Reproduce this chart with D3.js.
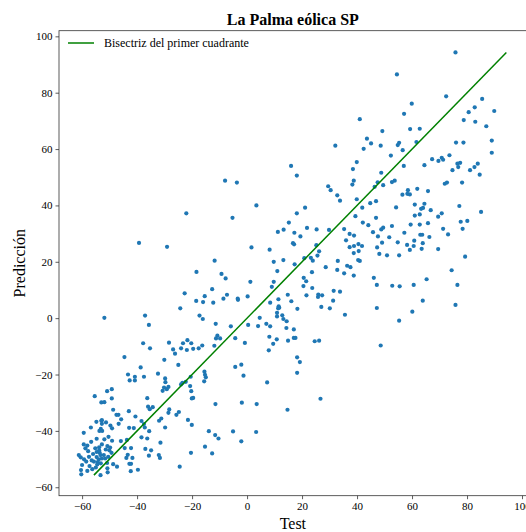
<!DOCTYPE html>
<html>
<head>
<meta charset="utf-8">
<script src="https://cdn.jsdelivr.net/npm/d3@7"></script>
<style>
  body { margin: 0; background: #fff; }
  svg text { font-family: "Liberation Serif", "Times New Roman", serif; fill: #000; }
</style>
</head>
<body>
<svg id="chart" width="526" height="532"></svg>
<script>
// values (Test, Predicción)
const testValues = [
  -22.1, -39.3, -29.1, -11.8,
  41.0, 43.6, 45.1, 42.4, 32.1, 39.9, 38.5, 16.0, 18.1, 38.8, 38.3, 29.5, 30.4, 32.8, 33.8, -8.0,
  -3.7, 3.4, -5.3, 21.1, 18.1, 39.9, 41.9, 44.8, 39.4, 15.2, 11.2, 13.3, 21.8, 25.3, 29.8, 17.2,
  19.4, 16.7, 17.1, 35.3, 42.1, 44.1, 37.3, 38.9, 36.0, 40.5, 37.3, 38.9, 38.8, 40.6, 41.8, 40.4,
  41.0, 25.2, 26.2, 25.6, 1.6, 8.2, 9.7, 13.2, 20.8, 23.2, 23.9, 33.0, 17.3,
  75.8, 54.5, 72.4, 85.5, 59.9, 82.8, 89.9, 80.6, 57.1, 78.8, 83.0, 87.0, 49.2, 59.3, 62.8, 48.6,
  54.8, 55.3, 61.6, 76.0, 78.7, 89.0, 56.6, 52.3, 89.0, 67.3, 69.6, 70.8, 71.3, 73.6, 57.0, 64.5,
  76.5, 77.5, 76.8, 74.7, 83.9, 82.7, 81.1, 84.6, 48.8, 46.4, 47.5, 49.5, 52.7, 53.7, 71.9, 72.7,
  78.2, 58.5, 61.9, 56.5, 58.3, 59.2, 65.8, 46.9, 61.0, 64.5, 63.3, 64.0, 54.2, 66.8, 77.2, 85.1,
  61.0, 62.8, 70.8, 69.5, 46.9, 77.7, 80.1, 59.5, 62.8, 65.8, 52.7, 49.5, 48.8, 71.3, 78.4, 45.8,
  57.2, 47.6, 51.7, 63.0, 63.7, 66.3, 73.1, 60.8, 54.8, 49.1, 63.9, 58.2, 60.6, 47.3, 59.2, 63.5,
  69.5, 48.1, 50.9, 55.3, 79.3,
  46.1, 47.2, 52.8, 55.5, 60.6, 65.3, 74.4, 76.5, 47.2, 63.9, 60.1, 75.8, 55.3, 48.6,
  11.0, -9.3, -7.8, 1.2, 9.7, 9.0, -7.3, -8.6, -3.4, -3.3, 0.2, 11.4, 8.4, 14.8, 16.1, 11.5,
  11.7, 11.3, 18.3, 10.9, 10.9, 12.8, 13.2, 4.6, 14.4, -11.4, -5.9, 0.4, 4.0, 7.0, 8.4, 14.3,
  17.0, -10.8, -11.3, -9.8, -4.3, 8.1, 10.8, 14.9, 17.0, 17.6, -0.8, 9.5, 7.9, 24.6, 26.2, 18.2,
  19.2, 18.2, -4.3, -2.1, -1.3, 7.3, 26.7, -11.5, -1.9, 3.5, 14.7, -11.6, -10.4, -5.1, 3.3, -2.1,
  23.6, 20.6, 21.5, 20.5, 23.7, 21.6, 28.6, 32.8, 35.3, 36.4, 37.6, 38.8, 25.9, 25.8, 27.3, 31.5,
  33.8, 31.3, 27.0, 30.1, 35.6,
  -18.4, -12.7, -22.7, -15.4, -18.5, -16.0, -12.3, -24.3, -51.9, -37.1, -35.7, -17.3, -16.1, -44.6, -37.8, -35.3,
  -28.4, -26.9, -26.2, -24.0, -23.3, -21.7, -21.9, -20.3, -19.6, -17.6, -16.3, -11.9, -30.1, -25.0, -38.7, -40.8,
  -37.5, -43.3, -42.7, -40.8, -32.4, -29.8, -29.7, -30.2, -30.7, -29.2, -28.6, -24.0, -23.5, -22.3, -20.5, -20.7,
  -20.3, -19.6, -20.1, -15.5, -15.3, -15.6, -15.0, -21.5, -20.1, -13.9, -15.3, -12.7, -20.4, -24.5, -36.3, -36.0,
  -35.4, -34.3, -28.3, -28.6, -25.7, -24.8, -32.0, -31.2, -29.8, -37.5, -37.2, -35.6, -38.4, -36.3, -31.5, -37.0,
  -34.9, -35.7, -32.1, -31.7, -40.6, -43.0, -42.9, -41.2, -38.4, -45.8, -46.8, -47.5, -46.7, -49.7, -49.1, -45.9,
  -43.7, -44.5, -42.2, -43.4, -43.9, -41.7, -42.8, -42.2, -42.3, -39.7, -47.3, -55.4, -50.9, -49.2, -49.2, -53.0,
  -51.9, -48.7, -52.8, -54.8, -56.8, -59.4, -53.2, -53.7, -52.7, -54.7, -56.7, -51.9, -50.8, -49.8, -50.1, -51.4,
  -49.3, -50.5, -53.8, -55.2, -58.8, -57.8, -54.7, -53.6, -56.0, -53.3, -52.1, -61.2, -60.5, -57.5, -54.7, -53.9,
  -52.8, -51.6, -59.3, -58.5, -55.7, -54.3, -53.2, -50.9, -48.7, -60.0, -57.3, -55.0, -50.8, -60.4, -58.1, -60.3,
  -53.3, -50.7, -56.3, -53.0, -52.8, -51.3, -59.4, -58.1, -56.5, -54.5, -53.8, -52.8, -50.4, -49.1
];
const predValues = [
  37.2, 26.7, 25.3, 20.4,
  70.6, 63.7, 62.0, 60.1, 61.2, 55.4, 52.9, 54.0, 50.6, 48.8, 47.4, 46.8, 45.4, 43.6, 41.7, 48.8,
  48.1, 40.0, 35.6, 39.2, 37.2, 42.2, 39.2, 40.8, 36.2, 33.9, 30.6, 31.4, 32.0, 31.5, 31.3, 30.3,
  29.0, 26.6, 26.2, 31.6, 33.9, 33.0, 29.9, 29.3, 27.6, 26.3, 25.2, 25.6, 23.1, 23.8, 25.6, 20.6,
  20.3, 25.9, 23.7, 22.2, 25.1, 24.3, 20.0, 20.6, 21.3, 21.4, 20.4, 20.3, 19.1,
  94.3, 86.5, 78.7, 77.8, 76.1, 74.8, 73.5, 73.1, 72.5, 70.3, 69.7, 68.1, 66.4, 67.1, 67.2, 61.2,
  61.4, 62.2, 62.5, 62.3, 62.3, 63.0, 59.6, 57.7, 58.7, 56.4, 55.8, 56.9, 56.2, 57.8, 54.0, 54.3,
  54.8, 55.1, 53.6, 52.5, 54.8, 53.6, 52.5, 50.9, 51.6, 46.6, 48.2, 47.2, 48.3, 48.8, 47.7, 48.1,
  48.1, 45.4, 45.9, 43.8, 44.1, 43.9, 45.1, 41.5, 40.3, 40.6, 38.8, 39.1, 39.3, 38.3, 39.8, 37.7,
  36.4, 36.8, 37.2, 36.0, 35.6, 34.2, 34.5, 33.2, 33.2, 33.7, 32.7, 32.1, 31.5, 31.7, 31.7, 30.5,
  30.3, 29.0, 28.7, 29.6, 29.6, 28.8, 29.7, 27.5, 26.9, 26.8, 26.6, 26.0, 25.6, 25.1, 24.2, 24.6,
  24.5, 22.8, 22.3, 22.3, 21.8,
  14.3, 11.8, 11.5, 11.3, 11.8, 13.8, 17.0, 11.8, 3.6, 6.2, 2.3, 4.7, -0.9, -9.7,
  16.7, 15.7, 14.1, 12.9, 12.9, 11.1, 8.3, 6.9, 6.9, 6.5, 7.7, 6.7, 5.5, 8.3, 6.0, 4.2,
  3.7, 3.5, 3.3, 1.9, 0.6, 1.0, -0.3, 0.1, -1.1, -2.0, -2.9, -2.4, -2.8, -2.0, -2.9, -3.5,
  -4.0, -6.2, -7.2, -7.2, -7.1, -6.6, -7.5, -8.0, -7.0, -7.0, -8.8, -9.1, -11.4, -8.2, -8.0, -13.9,
  -15.6, -19.4, -17.3, -16.5, -20.4, -22.8, -28.6, -30.5, -30.0, -30.5, -32.5, -41.5, -42.7, -40.2, -40.4, -43.7,
  16.3, 14.3, 13.1, 11.4, 10.7, 8.1, 18.1, 17.1, 15.9, 18.6, 18.1, 15.1, 8.4, 7.5, 8.1, 9.7,
  9.4, 6.2, 4.0, 3.5, 1.2,
  16.4, 10.3, 8.8, 7.8, 6.1, 5.7, 5.5, 3.5, 0.1, 0.9, -2.4, 0.9, -0.3, -13.8, -8.9, -10.7,
  -8.7, -11.1, -12.6, -10.7, -8.9, -7.8, -11.3, -8.9, -10.9, -10.7, -9.7, -9.8, -14.8, -16.6, -17.5, -20.8,
  -20.8, -20.0, -22.1, -22.1, -19.7, -21.4, -22.7, -24.6, -25.8, -25.2, -24.4, -23.5, -23.0, -22.6, -20.8, -24.1,
  -25.9, -28.3, -28.5, -19.0, -20.1, -22.4, -21.0, -36.1, -37.9, -40.1, -45.6, -48.0, -47.8, -52.7, -28.4, -31.4,
  -32.3, -31.6, -32.4, -33.6, -34.3, -33.3, -36.4, -35.6, -38.8, -37.6, -38.8, -40.1, -42.3, -42.7, -44.2, -46.4,
  -46.9, -48.8, -48.6, -49.6, -34.9, -33.0, -38.9, -39.0, -36.5, -35.9, -34.3, -34.3, -37.5, -38.1, -39.1, -43.6,
  -43.2, -46.1, -46.1, -48.5, -49.6, -49.6, -51.7, -51.7, -54.3, -53.8, -52.7, -27.7, -25.9, -25.2, -28.5, -29.9,
  -29.8, -32.5, -36.2, -36.8, -38.8, -40.7, -39.3, -40.0, -40.0, -42.8, -43.9, -43.0, -45.4, -45.9, -46.9, -46.6,
  -47.8, -49.2, -45.8, -46.2, -46.2, -47.2, -47.5, -47.8, -48.2, -48.6, -48.6, -48.6, -49.4, -49.2, -49.3, -50.1,
  -49.8, -49.8, -50.1, -50.9, -50.9, -51.1, -51.5, -51.4, -51.8, -52.1, -52.5, -53.0, -53.3, -53.9, -54.2, -55.4,
  -55.7, -54.7, -53.6, -36.4, -37.5, -37.0, -44.8, -45.2, -50.5, -51.9, -46.9, -44.8, -42.1, -43.5
];
const tickValues = [-60, -40, -20, 0, 20, 40, 60, 80, 100];
const titleText = "La Palma eólica SP";
const xLabel = "Test";
const yLabel = "Predicción";
const legendLabel = "Bisectriz del primer cuadrante";

const svg = d3.select("#chart");
// axes box in pixels
const box = { left: 59, right: 526.7, top: 30.7, bottom: 495.7 };

const x = d3.scaleLinear().domain([-68.4, 101.7]).range([box.left, box.right]);
const y = d3.scaleLinear().domain([-63, 102]).range([box.bottom, box.top]);

const points = testValues.map((t, i) => ({ t: t, p: predValues[i] }));
const lineExtent = d3.extent(predValues);

// scatter
svg.append("g")
  .selectAll("circle")
  .data(points)
  .enter().append("circle")
  .attr("cx", d => x(d.t))
  .attr("cy", d => y(d.p))
  .attr("r", 2.1)
  .attr("fill", "#1f77b4");

// bisectriz
svg.append("line")
  .attr("x1", x(lineExtent[0])).attr("y1", y(lineExtent[0]))
  .attr("x2", x(lineExtent[1])).attr("y2", y(lineExtent[1]))
  .attr("stroke", "green")
  .attr("stroke-width", 1.5);

// axes
const xAxis = svg.append("g")
  .attr("transform", `translate(0,${box.bottom})`)
  .call(d3.axisBottom(x).tickValues(tickValues).tickSize(3.5).tickPadding(3).tickSizeOuter(0));
const yAxis = svg.append("g")
  .attr("transform", `translate(${box.left},0)`)
  .call(d3.axisLeft(y).tickValues(tickValues).tickSize(3.5).tickPadding(3).tickSizeOuter(0));

[xAxis, yAxis].forEach(g => {
  g.select(".domain").remove();
  g.selectAll("line").attr("stroke", "#333").attr("stroke-width", 0.8);
  g.selectAll("text")
    .style("font-family", '"Liberation Serif", "Times New Roman", serif')
    .style("font-size", "11px")
    .attr("fill", "#000");
});

// frame
svg.append("rect")
  .attr("x", box.left).attr("y", box.top)
  .attr("width", box.right - box.left).attr("height", box.bottom - box.top)
  .attr("fill", "none")
  .attr("stroke", "#333")
  .attr("stroke-width", 0.8);

// title and labels
svg.append("text")
  .attr("x", (box.left + box.right) / 2).attr("y", 25)
  .attr("text-anchor", "middle")
  .style("font-size", "16px")
  .style("font-weight", "bold")
  .text(titleText);

svg.append("text")
  .attr("x", (box.left + box.right) / 2).attr("y", 529)
  .attr("text-anchor", "middle")
  .style("font-size", "16px")
  .text(xLabel);

svg.append("text")
  .attr("transform", `translate(25,${(box.top + box.bottom) / 2}) rotate(-90)`)
  .attr("text-anchor", "middle")
  .style("font-size", "16px")
  .text(yLabel);

// legend
const legend = svg.append("g");
legend.append("line")
  .attr("x1", 68).attr("x2", 94)
  .attr("y1", 43).attr("y2", 43)
  .attr("stroke", "green")
  .attr("stroke-width", 1.5);
legend.append("text")
  .attr("x", 104).attr("y", 47)
  .style("font-size", "12px")
  .text(legendLabel);
</script>
</body>
</html>
